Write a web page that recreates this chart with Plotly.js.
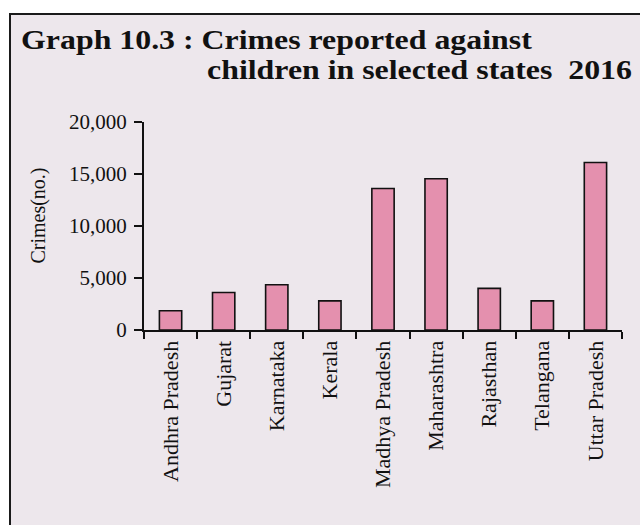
<!DOCTYPE html>
<html>
<head>
<meta charset="utf-8">
<script src="https://cdn.plot.ly/plotly-3.0.1.min.js"></script>
<style>
  html, body { margin: 0; padding: 0; background: #ffffff; width: 640px; height: 525px; overflow: hidden; }
  #frame { position: absolute; left: 9px; top: 13px; width: 631px; height: 512px;
           border-left: 2px solid #1a1a1a; border-top: 2px solid #1a1a1a; background: #ede7ec; }
  #chart { width: 631px; height: 512px; }
  .stretch-title { transform-box: fill-box; transform-origin: 0% 50%; transform: scaleX(1.18); }
</style>
</head>
<body>
<div id="frame"><div id="chart"></div></div>
<script>
const states = ["Andhra Pradesh", "Gujarat", "Karnataka", "Kerala", "Madhya Pradesh",
                "Maharashtra", "Rajasthan", "Telangana", "Uttar Pradesh"];
const crimes = [1850, 3600, 4350, 2800, 13600, 14550, 4000, 2800, 16100];
const yTickVals = [0, 5000, 10000, 15000, 20000];
const yTickText = ["0", "5,000", "10,000", "15,000", "20,000"];
const titleLine1 = "Graph 10.3 : Crimes reported against";
const titleLine2 = "children in selected states  2016";
const yAxisTitle = "Crimes(no.)";

const serif = "Liberation Serif, Times New Roman, serif";

const trace = {
  type: "bar",
  x: states,
  y: crimes,
  marker: { color: "#e490ae", line: { color: "#111111", width: 1.6 } },
  hoverinfo: "none"
};

const layout = {
  width: 631, height: 512,
  margin: { l: 133, r: 20, t: 107, b: 197, pad: 0 },
  paper_bgcolor: "#ede7ec",
  plot_bgcolor: "#ede7ec",
  showlegend: false,
  bargap: 0.58,
  font: { family: serif, color: "#111111" },
  xaxis: {
    type: "category",
    showline: true, linecolor: "#111111", linewidth: 2,
    ticks: "outside", tickson: "boundaries", ticklen: 7, tickwidth: 2, tickcolor: "#111111",
    tickangle: -90,
    tickfont: { family: serif, size: 22, color: "#111111" },
    showgrid: false, zeroline: false
  },
  yaxis: {
    range: [0, 20000],
    tickvals: yTickVals, ticktext: yTickText,
    showline: true, linecolor: "#111111", linewidth: 2,
    ticks: "outside", ticklen: 8, tickwidth: 2, tickcolor: "#111111",
    ticklabelstandoff: 3,
    tickfont: { family: serif, size: 21, color: "#111111" },
    showgrid: false, zeroline: false
  },
  annotations: [
    { text: "<b>" + titleLine1 + "</b>", xref: "paper", yref: "paper",
      x: -0.2605, y: 1.393, xanchor: "left", yanchor: "middle", showarrow: false,
      font: { family: serif, size: 27, color: "#111111" } },
    { text: "<b>" + titleLine2 + "</b>", xref: "paper", yref: "paper",
      x: 0.128, y: 1.252, xanchor: "left", yanchor: "middle", showarrow: false,
      font: { family: serif, size: 27, color: "#111111" } },
    { text: yAxisTitle, xref: "paper", yref: "paper", textangle: -90,
      x: -0.2227, y: 0.548, xanchor: "center", yanchor: "middle", showarrow: false,
      font: { family: serif, size: 20, color: "#111111" } }
  ]
};

Plotly.newPlot("chart", [trace], layout, { staticPlot: true, displayModeBar: false }).then(function (gd) {
  const texts = gd.querySelectorAll(".annotation-text");
  for (let i = 0; i < 2 && i < texts.length; i++) {
    texts[i].classList.add("stretch-title");
  }
});
</script>
</body>
</html>
